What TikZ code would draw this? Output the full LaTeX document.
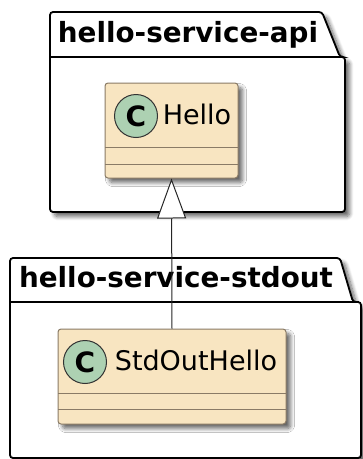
\documentclass[tikz,border=0pt]{standalone}
\usepackage{fontspec}
\setmainfont{DejaVu Sans}
\usetikzlibrary{arrows.meta,shadows.blur}
\definecolor{classfill}{HTML}{F8E5C1}
\definecolor{classline}{HTML}{8A7B66}
\definecolor{circfill}{HTML}{ADD1B2}
\tikzset{
  shad/.style={blur shadow={shadow xshift=4.5pt, shadow yshift=-4.5pt, shadow blur steps=8, shadow blur radius=4pt, shadow opacity=60}},
  pkg/.style={draw=black, line width=1.8pt, fill=white, rounded corners=3pt, shad},
  cls/.style={draw=classline, line width=1pt, fill=classfill, rounded corners=3pt, inner sep=0pt, shad},
  sep/.style={draw=classline, line width=1pt},
  pkgtitle/.style={font=\fontsize{27.8}{32}\selectfont\bfseries, anchor=base, inner sep=0pt},
  clsname/.style={font=\fontsize{27}{32}\selectfont, anchor=base, inner sep=0pt},
  spot/.style={circle, draw=black!80, fill=circfill, line width=1pt, minimum size=43pt, inner sep=0pt, font=\fontsize{28}{32}\selectfont\bfseries},
  inherit/.style={draw=black!85, line width=1pt, -{Triangle[open, length=40pt, width=29pt, fill=white]}},
}
\begin{document}
\begin{tikzpicture}[x=1pt, y=-1pt]
\useasboundingbox (0,0) rectangle (363,459);
% package hello-service-api
\draw[pkg] (50,57) -- (50,12) -- (322,12) -- (340,57) -- (345,57) -- (345,212) -- (50,212) -- cycle;
\draw[line width=1.8pt] (50,57) -- (343,57);
\node[pkgtitle] (apititle) at (188,42) {hello-service-api};
% package hello-service-stdout
\draw[pkg] (10,302) -- (10,258) -- (340,258) -- (353,302) -- (361,302) -- (361,458) -- (10,458) -- cycle;
\draw[line width=1.8pt] (10,302) -- (359,302);
\node[pkgtitle] (stdtitle) at (176,287) {hello-service-stdout};
% class Hello
\node[cls, minimum width=133pt, minimum height=95pt] (hello) at (171.5,130.5) {};
\draw[sep] (105,147) -- (238,147);
\draw[sep] (105,164) -- (238,164);
\node[spot] (helloC) at (136,116) {C};
\node[clsname] (helloname) at (197,124) {Hello};
% class StdOutHello
\node[cls, minimum width=228pt, minimum height=95pt] (std) at (172,376.5) {};
\draw[sep] (58,393) -- (286,393);
\draw[sep] (58,409) -- (286,409);
\node[spot] (stdC) at (85,362) {C};
\node[clsname] (stdname) at (196,370) {StdOutHello};
% generalization
\draw[inherit] (std.north) -- (hello.south);
\end{tikzpicture}
\end{document}
